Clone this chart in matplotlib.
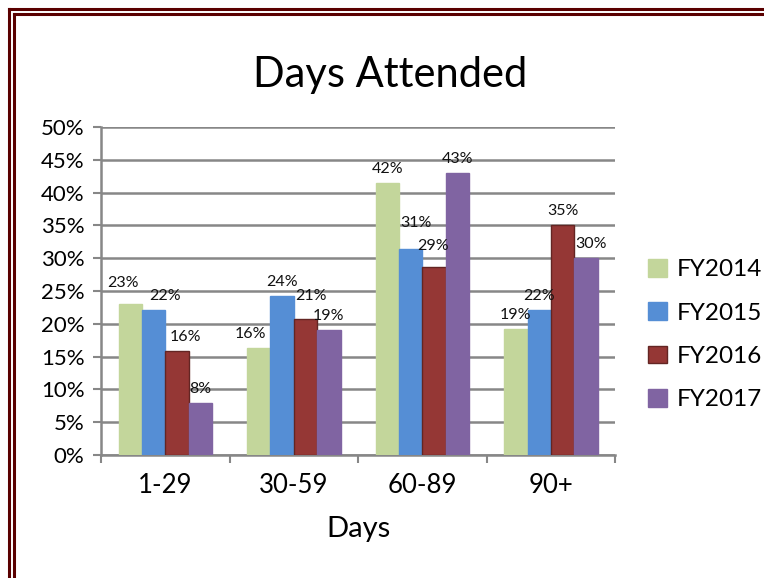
import numpy as np
import matplotlib
matplotlib.use('Agg')
import matplotlib.pyplot as plt
from matplotlib.lines import Line2D
from matplotlib.patches import Patch

plt.rcParams['font.family'] = ['Lato', 'DejaVu Sans']

categories = ['1-29', '30-59', '60-89', '90+']
series = ['FY2014', 'FY2015', 'FY2016', 'FY2017']
fy2014 = [23.0, 16.3, 41.5, 19.2]
fy2015 = [22.1, 24.3, 31.4, 22.1]
fy2016 = [15.8, 20.8, 28.7, 35.1]
fy2017 = [8.0, 19.0, 43.0, 30.1]
labels = [['23%', '16%', '42%', '19%'],
          ['22%', '24%', '31%', '22%'],
          ['16%', '21%', '29%', '35%'],
          ['8%', '19%', '43%', '30%']]

colors = ['#c3d69b', '#558ed5', '#953735', '#8064a2']
edges = ['#c3d69b', '#558ed5', '#632523', '#8064a2']
# label nudges (points) where Excel moved labels to avoid overlap
nudge = {(0, 0): (-5, 5), (1, 0): (8, 0), (2, 0): (6, 0),
         (0, 1): (-6, 0), (2, 1): (4, 6),
         (1, 2): (4, 9), (2, 2): (-1, 5), (3, 3): (4, 0)}

fig = plt.figure(figsize=(7.64, 5.78), dpi=100)
ax = fig.add_axes([0.1322, 0.2128, 0.673, 0.5675])

data = [fy2014, fy2015, fy2016, fy2017]
x = np.arange(len(categories))
w = 1 / 5.5
for i, vals in enumerate(data):
    pos = x + (i - 1.5) * w
    ax.bar(pos, vals, w, color=colors[i], edgecolor=edges[i], linewidth=1, zorder=3)
    for j, v in enumerate(vals):
        dx, dy = nudge.get((i, j), (0, 0))
        ax.annotate(labels[i][j], (pos[j], v), xytext=(dx, 5 + dy),
                    textcoords='offset points', ha='center', va='bottom',
                    fontsize=11.5, color='#111111', zorder=4)

ax.set_xlim(-0.5, 3.5)
ax.set_ylim(0, 50)
ax.set_yticks(np.arange(0, 51, 5))
ax.set_yticklabels([f'{t}%' for t in range(0, 51, 5)], fontsize=16)
ax.set_xticks(x)
ax.set_xticklabels(categories, fontsize=18.5)
ax.set_xticks(np.arange(-0.5, 4, 1), minor=True)
ax.tick_params(axis='x', which='major', length=0, pad=13)
ax.tick_params(axis='x', which='minor', length=6, width=1.5, color='#878787')
ax.tick_params(axis='y', length=6, width=1.5, color='#878787', pad=6)
ax.grid(axis='y', color='#878787', linewidth=1.8, zorder=0)
for s in ['top', 'right']:
    ax.spines[s].set_visible(False)
for s in ['left', 'bottom']:
    ax.spines[s].set_color('#878787')
    ax.spines[s].set_linewidth(1.8)
ax.set_xlabel('Days', fontsize=21, labelpad=13)

fig.text(0.51, 0.87, 'Days Attended', ha='center', va='center', fontsize=30)

handles = [Patch(facecolor=colors[i], edgecolor=edges[i]) for i in range(4)]
fig.legend(handles, series, loc='center left', bbox_to_anchor=(0.82, 0.421),
           frameon=False, fontsize=17.5, handlelength=0.75, handleheight=0.75,
           handletextpad=0.4, labelspacing=0.9)

# double border on left and top
bc = '#5a0000'
for px in (8.5, 14):
    fig.add_artist(Line2D([px / 764, px / 764], [0, 1 - px / 578], color=bc, lw=2.2))
    fig.add_artist(Line2D([px / 764, 1], [1 - px / 578, 1 - px / 578], color=bc, lw=2.2))

fig.savefig('out.png', dpi=100)
